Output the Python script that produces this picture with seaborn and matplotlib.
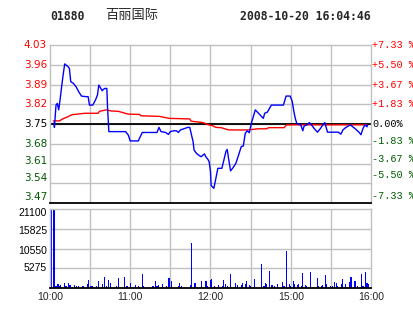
import matplotlib
matplotlib.use("Agg")
import matplotlib.pyplot as plt
import matplotlib.transforms as mtransforms
import seaborn as sns
import pandas as pd
import numpy as np

sns.set_style("white")
plt.rcParams['font.family'] = ['DejaVu Sans']

# ---- data ----
code = "01880"
name = "百丽国际"
stamp = "2008-10-20 16:04:46"
prev_close = 3.75

price_t = [3, 3.3, 4.5, 5.5, 6.5, 7.5, 9, 10, 11, 12, 13.5, 14.5, 15.5, 17.5, 19.5, 21.5, 23.5,
           26.5, 28.5, 29.5, 32, 34, 35.5, 36.5, 38, 39, 40, 41, 42.5, 43, 44, 56.5, 58.5, 60,
           66, 69, 80, 81.5, 83, 86.5, 88.5, 90, 92.5, 94.5, 96, 97.5, 100, 103, 104.5, 105.5,
           107, 107.7, 109.5, 111, 113, 114.5, 115.5, 116.5, 118, 119, 120, 120.5, 122.5, 124,
           125.5, 128.5, 130, 131.5, 132.5, 133.5, 135, 137, 139, 141, 143, 144.5, 146, 147.5,
           149, 150.5, 152, 153.5, 155.5, 159.5, 160.5, 162.5, 165.5, 174.5, 176.5, 179.5, 181,
           182.5, 183.5, 184.5, 187.5, 189, 190, 192, 194, 195.5, 197.5, 200, 202.5, 204, 205.5,
           206, 207.5, 215.5, 217.5, 219, 221, 224.5, 228, 231, 232.5, 234, 235.5, 237, 237.5]
price_v = [3.755, 3.738, 3.817, 3.823, 3.800, 3.835, 3.894, 3.930, 3.963, 3.959, 3.953, 3.947,
           3.900, 3.894, 3.882, 3.864, 3.849, 3.847, 3.847, 3.817, 3.817, 3.835, 3.853, 3.888,
           3.876, 3.868, 3.873, 3.876, 3.876, 3.811, 3.723, 3.723, 3.711, 3.690, 3.690, 3.720,
           3.720, 3.738, 3.723, 3.720, 3.713, 3.723, 3.726, 3.726, 3.720, 3.729, 3.733, 3.738,
           3.738, 3.717, 3.687, 3.658, 3.646, 3.640, 3.634, 3.640, 3.644, 3.634, 3.625, 3.616,
           3.581, 3.532, 3.522, 3.557, 3.593, 3.593, 3.622, 3.652, 3.660, 3.628, 3.584, 3.596,
           3.611, 3.640, 3.670, 3.672, 3.717, 3.726, 3.719, 3.752, 3.776, 3.800, 3.790, 3.770,
           3.788, 3.792, 3.817, 3.817, 3.849, 3.849, 3.832, 3.790, 3.768, 3.752, 3.747, 3.726,
           3.743, 3.747, 3.755, 3.747, 3.734, 3.721, 3.736, 3.747, 3.755, 3.746, 3.721, 3.721,
           3.714, 3.729, 3.737, 3.747, 3.734, 3.721, 3.712, 3.734, 3.747, 3.740, 3.747]

avg_t = [2.5, 7, 9.5, 13.5, 16.5, 26, 36, 37, 42, 46, 51, 58.5, 67, 68, 82, 89, 104.5, 105.5,
         114.5, 118, 122, 124, 128, 133.5, 148, 155.5, 162, 163.5, 175, 177, 237.5]
avg_v = [3.761, 3.761, 3.768, 3.776, 3.783, 3.788, 3.788, 3.795, 3.800, 3.796, 3.795, 3.785,
         3.784, 3.779, 3.777, 3.770, 3.768, 3.760, 3.755, 3.748, 3.743, 3.738, 3.737, 3.729,
         3.729, 3.733, 3.733, 3.737, 3.737, 3.747, 3.747]

vol_t = [1, 3, 4, 5, 6, 7, 8, 11, 12, 14, 15, 18, 20, 21, 24, 25, 28, 29, 30, 31, 32, 35, 36,
         39, 41, 42, 44, 45, 50, 51, 56, 57, 58, 60, 64, 66, 69, 70, 77, 79, 80, 81, 84, 87, 89,
         91, 96, 97, 98, 105, 106, 108, 109, 113, 116, 117, 118, 120, 121, 123, 126, 129, 130,
         131, 133, 135, 139, 140, 143, 144, 146, 147, 149, 150, 153, 158, 160, 161, 162, 164,
         166, 168, 170, 174, 175, 177, 179, 180, 182, 183, 185, 186, 188, 189, 191, 192, 195,
         200, 201, 203, 204, 206, 207, 210, 211, 213, 214, 215, 218, 219, 221, 224, 225, 228,
         230, 233, 234, 236, 237, 238]
vol_v = [21100, 20900, 623, 623, 1157, 623, 890, 1424, 623, 1424, 890, 890, 623, 623, 623, 623,
         1157, 2225, 623, 623, 623, 623, 1958, 1157, 3026, 623, 2225, 1424, 623, 2759, 3026, 623,
         623, 1424, 890, 623, 3827, 623, 623, 1958, 623, 890, 1157, 623, 2759, 1958, 623, 1424,
         623, 890, 12104, 1424, 1424, 1958, 1958, 1958, 623, 2225, 2492, 623, 890, 623, 2225,
         1157, 623, 3827, 1424, 890, 890, 1424, 1157, 1958, 890, 623, 2492, 6497, 623, 1424,
         1157, 4628, 890, 623, 1157, 1691, 623, 9968, 1157, 623, 1958, 1157, 890, 1157, 623,
         4094, 890, 623, 4361, 2759, 623, 623, 890, 3560, 1157, 623, 623, 1691, 1424, 623, 1157,
         2492, 1157, 1691, 3026, 1958, 623, 3827, 623, 4361, 1424, 1157]

price_ticks = [4.03, 3.96, 3.89, 3.82, 3.75, 3.68, 3.61, 3.54, 3.47]
pct_labels = ["+7.33 %", "+5.50 %", "+3.67 %", "+1.83 %", "0.00%", "-1.83 %", "-3.67 %",
              "-5.50 %", "-7.33 %"]
vol_ticks = [5275, 10550, 15825, 21100]
time_ticks = [0, 30, 60, 90, 120, 150, 180, 210, 240]
time_labels = ["10:00", "", "11:00", "", "12:00", "", "15:00", "", "16:00"]

# ---- styling ----
W, H = 414, 314
RED = "#ff0000"
GREEN = "#005a00"
GRID = "#c0c0c0"

def tick_color(v):
    if v > prev_close + 1e-9:
        return RED
    if v < prev_close - 1e-9:
        return GREEN
    return "black"

fig = plt.figure(figsize=(W / 100, H / 100), dpi=100)
fig.patch.set_facecolor("white")
axp = fig.add_axes([50 / W, (H - 203) / H, 321 / W, 158 / H])
axv = fig.add_axes([50 / W, (H - 288) / H, 321 / W, 79 / H])

price_df = pd.DataFrame({"t": price_t, "p": price_v})
avg_df = pd.DataFrame({"t": avg_t, "p": avg_v})
vol_df = pd.DataFrame({"t": vol_t, "v": vol_v})


def side_labels(ax, values, texts, colors, xpos, ha, dys_px, **kw):
    base = mtransforms.blended_transform_factory(ax.transAxes, ax.transData)
    dx = -3 if ha == "right" else 1
    for v, s, c, dy in zip(values, texts, colors, dys_px):
        tr = base + mtransforms.ScaledTranslation(dx / 100.0, dy / 100.0, fig.dpi_scale_trans)
        ax.text(xpos, v, s, color=c, ha=ha, va="center", transform=tr, clip_on=False, **kw)


# price panel
for y in price_ticks[1:-1]:
    axp.axhline(y, color=GRID, lw=1, zorder=0)
for x in time_ticks[1:-1]:
    axp.axvline(x, color=GRID, lw=1, zorder=0)
axp.axhline(prev_close, color="black", lw=1.3, zorder=1)
sns.lineplot(data=avg_df, x="t", y="p", ax=axp, color=RED, lw=1.0, estimator=None,
             sort=False, zorder=2)
sns.lineplot(data=price_df, x="t", y="p", ax=axp, color="#0000ff", lw=1.0, estimator=None,
             sort=False, zorder=3)
axp.set_xlim(0, 240)
axp.set_ylim(3.47, 4.03)
axp.set_xticks(time_ticks)
axp.set_xticklabels([])
axp.set_yticks(price_ticks)
axp.set_yticklabels([])
axp.tick_params(axis="both", length=0)
axp.set_xlabel("")
axp.set_ylabel("")
for s in ["top", "left", "right"]:
    axp.spines[s].set_color(GRID)
    axp.spines[s].set_linewidth(1)
axp.spines["bottom"].set_color("black")
axp.spines["bottom"].set_linewidth(1.3)

colors = [tick_color(v) for v in price_ticks]
side_labels(axp, price_ticks, [f"{v:.2f}" for v in price_ticks], colors, 0.0, "right",
            [0, 0, 0, 0, 0, 0, 3, 5, 6], fontsize=7.5)
side_labels(axp, price_ticks, pct_labels, colors, 1.0, "left",
            [0, 0, 0, 0, 0, 3, 5, 8, 7], fontsize=7.3, family="Liberation Mono")

# volume panel
for y in vol_ticks[:-1]:
    axv.axhline(y, color=GRID, lw=1, zorder=0)
for x in time_ticks[1:-1]:
    axv.axvline(x, color=GRID, lw=1, zorder=0)
sns.barplot(data=vol_df, x="t", y="v", ax=axv, native_scale=True, color="#0000ff",
            saturation=1, width=0.85, linewidth=0, errorbar=None, zorder=2,
            antialiased=False)
axv.set_xlim(0, 240)
axv.set_ylim(0, 21100)
axv.set_yticks(vol_ticks)
axv.set_yticklabels([])
axv.set_xticks(time_ticks)
axv.set_xticklabels(time_labels, fontsize=7.5, family="Liberation Sans")
axv.tick_params(axis="both", length=0, pad=3)
axv.set_xlabel("")
axv.set_ylabel("")
for s in ["top", "left", "right"]:
    axv.spines[s].set_color(GRID)
    axv.spines[s].set_linewidth(1)
axv.spines["bottom"].set_color("black")
axv.spines["bottom"].set_linewidth(1.3)
side_labels(axv, vol_ticks, [str(v) for v in vol_ticks], ["black"] * 4, 0.0, "right",
            [0, -2, -2, -4], fontsize=7.5, family="Liberation Sans")

# title
fig.text(50 / W, 1 - 16 / H, code, fontsize=8.3, fontweight="bold",
         family="DejaVu Sans Mono", va="center", ha="left")
fig.text(105 / W, 1 - 16 / H, name, fontsize=9.5, family=["Noto Sans CJK SC", "DejaVu Sans"],
         va="center", ha="left")
fig.text(371 / W, 1 - 16 / H, stamp, fontsize=8.3, fontweight="bold",
         family="DejaVu Sans Mono", va="center", ha="right")

fig.savefig("out.png", dpi=100, facecolor="white")
